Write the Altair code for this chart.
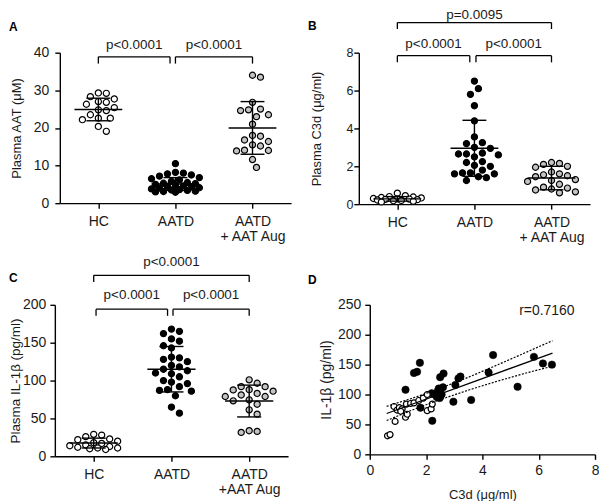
import altair as alt
import pandas as pd

FONT = "Liberation Sans"
TXT = "#1a1a1a"

groups = ["HC", "AATD", "AATD + AAT Aug"]
group_fill = ["#ffffff", "#000000", "#c4c4c4"]

# ---------------- Panel A : Plasma AAT (uM)
a_hc = [29.3, 29.2, 28.3, 27.7, 27.0, 26.8, 26.3, 25.4, 24.8, 24.6, 23.5, 22.6, 22.6, 22.2, 20.4, 19.1]
a_aatd = [10.5, 8.2, 8.0, 7.8, 7.5, 7.2, 6.8, 6.5, 6.2, 5.8, 5.5, 5.3, 5.2, 5.0, 4.8, 4.6,
          4.5, 4.3, 4.1, 4.0, 3.8, 3.6, 3.5, 3.4, 3.2, 3.1, 3.0, 2.9]
a_aug = [34.0, 33.5, 26.8, 25.0, 24.8, 24.6, 23.5, 23.0, 21.0, 18.0, 17.8, 16.8, 16.4, 15.5,
         15.2, 14.1, 14.0, 13.9, 11.6, 9.5]
a_mean = [24.9, 5.1, 20.0]
a_sd = [3.0, 1.7, 7.0]
a_labels = ["HC", "AATD", ["AATD", "+ AAT Aug"]]
a_brackets = [
    # x1, x2, y, tick end, label, label y
    (0.5, 1.43, 38.9, 37.1, "p<0.0001", 42.1),
    (1.5, 2.5, 38.9, 37.1, "p<0.0001", 42.1),
]

# ---------------- Panel B : Plasma C3d (ug/ml)
b_hc = [0.58, 0.45, 0.40, 0.38, 0.35, 0.33, 0.30, 0.28, 0.27, 0.25, 0.24, 0.22, 0.20, 0.18, 0.15, 0.12]
b_aatd = [6.5, 6.1, 5.8, 5.2, 4.4, 3.55, 3.25, 3.2, 3.0, 2.95, 2.7, 2.65, 2.65, 2.6, 2.5, 2.25,
          2.2, 2.05, 2.0, 1.8, 1.65, 1.65, 1.6, 1.6, 1.45, 1.4, 1.25]
b_aug = [2.2, 2.15, 2.1, 2.0, 1.95, 1.7, 1.6, 1.55, 1.5, 1.45, 1.3, 1.25, 1.2, 1.05, 0.9, 0.85,
         0.8, 0.75, 0.65, 0.6]
b_mean = [0.28, 2.95, 1.38]
b_sd = [0.12, 1.48, 0.62]
b_labels = ["HC", "AATD", ["AATD", "+ AAT Aug"]]
b_brackets = [
    (0.5, 2.5, 9.59, 9.25, "p=0.0095", 10.0),
    (0.5, 1.44, 7.84, 7.49, "p<0.0001", 8.46),
    (1.52, 2.5, 7.84, 7.49, "p<0.0001", 8.46),
]

# ---------------- Panel C : Plasma IL-1b (pg/ml)
c_hc = [29, 28, 26, 23, 22, 20, 18, 17, 15, 14, 13, 12, 11, 11, 10, 9]
c_aatd = [168, 165, 162, 155, 152, 146, 143, 131, 130, 128, 125, 120, 118, 115, 113, 110, 109,
          105, 100, 98, 96, 92, 88, 87, 86, 80, 65, 57]
c_aug = [101, 96.5, 92, 92, 88, 87.7, 86, 83, 81, 79, 79, 74.6, 73.3, 68.8, 61.4, 55.7, 33.8, 32.9, 31.6]
c_mean = [17.5, 115.0, 73.0]
c_sd = [6.5, 30.0, 21.0]
c_labels = ["HC", "AATD", ["AATD", "+AAT Aug"]]
c_brackets = [
    (0.5, 2.5, 239, 230, "p<0.0001", 256.6),
    (0.53, 1.45, 194.3, 185.5, "p<0.0001", 212.8),
    (1.52, 2.5, 194.3, 185.5, "p<0.0001", 212.8),
]

# ---------------- Panel D : correlation
d_aatd_c3d = [1.27, 1.57, 1.68, 1.78, 1.80, 2.22, 2.20, 2.30, 2.38, 2.42, 2.45, 2.48, 2.50, 2.55,
              2.50, 2.62, 2.60, 2.97, 3.04, 3.15, 3.22, 3.60, 4.22, 4.38, 5.25, 5.83, 6.15, 6.47]
d_aatd_il = [108, 136, 138, 153, 78, 56, 102, 100, 96, 106, 110, 94, 104, 100,
             129, 135, 112, 88, 116, 127, 130, 91, 137, 166, 113, 163, 152, 150]
d_aug_c3d = [0.63, 0.72, 0.90, 0.86, 0.97, 1.05, 1.15, 1.27, 1.33, 1.30, 1.45, 1.57, 1.74, 1.90,
             2.04, 2.04, 2.18, 2.22, 1.10]
d_aug_il = [31, 33, 55, 80, 74, 78, 76, 62, 67, 84, 85, 86, 90, 94, 100, 73, 76, 84, 72]
fit_x = [0.6, 6.49]
fit_y = [68.3, 169.4]
ci_x = [0.6, 1.5, 2.3, 3.5, 4.5, 5.5, 6.49]
ci_hi = [80.3, 93.7, 106.7, 128.8, 148.8, 169.5, 190.0]
ci_lo = [56.5, 73.9, 88.2, 107.4, 121.8, 135.3, 147.5]
r_label = "r=0.7160"


def swarm_offsets(vals, ypx, xpx, diam=8.0, max_half=25.0):
    n = len(vals)
    order = sorted(range(n), key=lambda i: -vals[i])
    step = diam / 2.0
    cands = [0.0]
    k = 1
    while k * step <= max_half + 1e-9:
        cands += [k * step, -k * step]
        k += 1
    placed = []
    offs = [0.0] * n
    for i in order:
        y = vals[i] * ypx
        chosen = None
        for c in cands:
            if all((c - px) ** 2 + (y - py) ** 2 >= diam ** 2 for px, py in placed):
                chosen = c
                break
        if chosen is None:
            chosen = max(cands, key=lambda c: min((c - px) ** 2 + (y - py) ** 2 for px, py in placed))
        placed.append((chosen, y))
        offs[i] = chosen / xpx
    return offs


def js_label(l):
    if isinstance(l, list):
        return "[" + ",".join("'%s'" % s for s in l) + "]"
    return "'%s'" % l


def dot_panel(letter, data, means, sds, ydom, yticks, ytitle, labels, brackets, width, height,
              xrange=None, yoffset=0, label_size=14, title_size=13, title_pad=10, label_pad=5,
              letter_pos=(-51, -22)):
    span = (xrange[1] - xrange[0]) if xrange else width
    xpx = span / 3.0
    ypx = height / (ydom[1] - ydom[0])
    rows = []
    for gi, (g, vals) in enumerate(zip(groups, data)):
        offs = swarm_offsets(vals, ypx, xpx)
        for v, o in zip(vals, offs):
            rows.append({"group": g, "value": v, "xpos": gi + 0.5 + o})
    pts = pd.DataFrame(rows)

    centers = [0.5, 1.5, 2.5]
    stats = pd.DataFrame({"group": groups, "center": centers, "mean": means, "sd": sds})
    stats["lo"] = stats["mean"] - stats["sd"]
    stats["hi"] = stats["mean"] + stats["sd"]
    stats["m1"] = stats["center"] - 0.31
    stats["m2"] = stats["center"] + 0.31
    caps = pd.concat([
        pd.DataFrame({"c1": stats["center"] - 0.155, "c2": stats["center"] + 0.155, "yv": stats["lo"]}),
        pd.DataFrame({"c1": stats["center"] - 0.155, "c2": stats["center"] + 0.155, "yv": stats["hi"]}),
    ])
    br = pd.DataFrame(brackets, columns=["x1", "x2", "y", "yt", "label", "ty"])
    br["xm"] = (br["x1"] + br["x2"]) / 2

    sc = dict(domain=[0, 3], nice=False, zero=False)
    if xrange:
        sc["range"] = xrange
    xscale = alt.Scale(**sc)
    yscale = alt.Scale(domain=ydom, nice=False, zero=False)

    expr = "datum.value < 1 ? %s : datum.value < 2 ? %s : %s" % tuple(js_label(l) for l in labels)
    xaxis = alt.Axis(values=centers, labelExpr=expr, title=None, grid=False, tickSize=5,
                     labelFontSize=14, labelPadding=6, labelLineHeight=15, labelOverlap=False,
                     labelFlush=False, labelColor=TXT, domainColor="#000", tickColor="#000",
                     domainWidth=1.4, tickWidth=1.4, labelFont=FONT)
    yaxis = alt.Axis(values=yticks, title=ytitle, grid=False, tickSize=5, labelFontSize=label_size,
                     labelPadding=label_pad, titleFontSize=title_size, titleFontWeight="normal",
                     titlePadding=title_pad, offset=yoffset, labelColor=TXT, titleColor=TXT,
                     domainColor="#000", tickColor="#000", domainWidth=1.4, tickWidth=1.4,
                     labelFont=FONT, titleFont=FONT, labelFlush=False, labelOverlap=False)

    def X(f):
        return alt.X(f, scale=xscale, axis=xaxis)

    def Y(f):
        return alt.Y(f, scale=yscale, axis=yaxis)

    points = alt.Chart(pts).mark_point(shape="circle", filled=True, size=38, stroke="#000",
                                       strokeWidth=1.2, opacity=1).encode(
        x=X("xpos:Q"), y=Y("value:Q"),
        fill=alt.Fill("group:N", scale=alt.Scale(domain=groups, range=group_fill), legend=None),
    )
    mean_rule = alt.Chart(stats).mark_rule(color="#000", strokeWidth=1.4).encode(
        x=X("m1:Q"), x2="m2:Q", y=Y("mean:Q"))
    sd_rule = alt.Chart(stats).mark_rule(color="#000", strokeWidth=1.4).encode(
        x=X("center:Q"), y=Y("lo:Q"), y2="hi:Q")
    cap_rule = alt.Chart(caps).mark_rule(color="#000", strokeWidth=1.4).encode(
        x=X("c1:Q"), x2="c2:Q", y=Y("yv:Q"))
    bh = alt.Chart(br).mark_rule(color="#000", strokeWidth=1.3).encode(
        x=X("x1:Q"), x2="x2:Q", y=Y("y:Q"))
    bl = alt.Chart(br).mark_rule(color="#000", strokeWidth=1.3).encode(
        x=X("x1:Q"), y=Y("yt:Q"), y2="y:Q")
    brr = alt.Chart(br).mark_rule(color="#000", strokeWidth=1.3).encode(
        x=X("x2:Q"), y=Y("yt:Q"), y2="y:Q")
    btxt = alt.Chart(br).mark_text(font=FONT, fontSize=13.5, baseline="middle", color=TXT).encode(
        x=X("xm:Q"), y=Y("ty:Q"), text="label:N")
    let = alt.Chart(pd.DataFrame({"t": [letter]})).mark_text(
        align="left", baseline="alphabetic", fontWeight="bold", fontSize=12, font=FONT, color="#000"
    ).encode(x=alt.value(letter_pos[0]), y=alt.value(letter_pos[1]), text="t:N")
    return alt.layer(points, mean_rule, sd_rule, cap_rule, bh, bl, brr, btxt, let).properties(
        width=width, height=height)


A = dot_panel("A", [a_hc, a_aatd, a_aug], a_mean, a_sd, [0, 40], [0, 10, 20, 30, 40],
              "Plasma AAT (\u03bcM)", a_labels, a_brackets, 232, 151,
              label_size=14, title_size=13, title_pad=10, label_pad=6, letter_pos=(-51, -22))
B = dot_panel("B", [b_hc, b_aatd, b_aug], b_mean, b_sd, [0, 8], [0, 2, 4, 6, 8],
              "Plasma C3d (\u03bcg/ml)", b_labels, b_brackets, 232, 152,
              label_size=12.5, title_size=13, title_pad=22, label_pad=1, letter_pos=(-51, -23))
C = dot_panel("C", [c_hc, c_aatd, c_aug], c_mean, c_sd, [0, 200], [0, 50, 100, 150, 200],
              "Plasma IL-1\u03b2 (pg/ml)", c_labels, c_brackets, 229, 152, xrange=[-5, 229],
              yoffset=5, label_size=14, title_size=13.5, title_pad=0, label_pad=4,
              letter_pos=(-51, -23))

# ---- Panel D
d_pts_aatd = pd.DataFrame({"c3d": d_aatd_c3d, "il": d_aatd_il})
d_pts_aug = pd.DataFrame({"c3d": d_aug_c3d, "il": d_aug_il})
fit_df = pd.DataFrame({"x": fit_x, "y": fit_y})
ci_df = pd.DataFrame({"x": ci_x, "hi": ci_hi, "lo": ci_lo})
dx = alt.Scale(domain=[0, 8], nice=False, zero=False)
dy = alt.Scale(domain=[0, 250], nice=False, zero=False)
dxaxis = alt.Axis(values=[0, 2, 4, 6, 8], title="C3d (\u03bcg/ml)", grid=False, tickSize=5,
                  labelFontSize=14, labelPadding=4, titleFontSize=13, titleFontWeight="normal",
                  titlePadding=11, labelColor=TXT, titleColor=TXT, domainColor="#000",
                  tickColor="#000", domainWidth=1.4, tickWidth=1.4, labelFont=FONT,
                  titleFont=FONT, labelFlush=False)
dyaxis = alt.Axis(values=[0, 50, 100, 150, 200, 250], title="IL-1\u03b2 (pg/ml)", grid=False,
                  tickSize=5, labelFontSize=14, labelPadding=4, titleFontSize=14,
                  titleFontWeight="normal", titlePadding=4, labelColor=TXT, titleColor=TXT,
                  domainColor="#000", tickColor="#000", domainWidth=1.4, tickWidth=1.4,
                  labelFont=FONT, titleFont=FONT, labelFlush=False)


def DX(f):
    return alt.X(f, scale=dx, axis=dxaxis)


def DY(f):
    return alt.Y(f, scale=dy, axis=dyaxis)


d_black = alt.Chart(d_pts_aatd).mark_point(shape="circle", filled=True, size=56, fill="#000",
                                           stroke="#000", strokeWidth=0.5, opacity=1).encode(
    x=DX("c3d:Q"), y=DY("il:Q"))
d_white = alt.Chart(d_pts_aug).mark_point(shape="circle", filled=True, size=36, fill="#fff",
                                          stroke="#000", strokeWidth=1.2, opacity=1).encode(
    x=DX("c3d:Q"), y=DY("il:Q"))
d_fit = alt.Chart(fit_df).mark_line(color="#000", strokeWidth=1.3).encode(
    x=DX("x:Q"), y=DY("y:Q"))
d_hi = alt.Chart(ci_df).mark_line(color="#000", strokeWidth=1.2, strokeDash=[2, 1.5]).encode(
    x=DX("x:Q"), y=DY("hi:Q"))
d_lo = alt.Chart(ci_df).mark_line(color="#000", strokeWidth=1.2, strokeDash=[2, 1.5]).encode(
    x=DX("x:Q"), y=DY("lo:Q"))
r_df = pd.DataFrame({"x": [6.29], "y": [240], "t": [r_label]})
d_r = alt.Chart(r_df).mark_text(font=FONT, fontSize=14, baseline="middle", color=TXT).encode(
    x=DX("x:Q"), y=DY("y:Q"), text="t:N")
d_let = alt.Chart(pd.DataFrame({"t": ["D"]})).mark_text(
    align="left", baseline="alphabetic", fontWeight="bold", fontSize=12, font=FONT, color="#000"
).encode(x=alt.value(-62), y=alt.value(-21), text="t:N")
D = alt.layer(d_black, d_white, d_fit, d_hi, d_lo, d_r, d_let).properties(width=226, height=150)

row1 = alt.hconcat(A, B, spacing=68, bounds="flush")
row2 = alt.hconcat(C, D, spacing=82, bounds="flush")
chart = alt.vconcat(row1, row2, spacing=10).properties(
    padding={"left": 0, "top": -1, "right": 0, "bottom": 0}
).configure(font=FONT).configure_view(stroke=None)

chart.save("out.html", embed_options={"renderer": "svg", "actions": False})
